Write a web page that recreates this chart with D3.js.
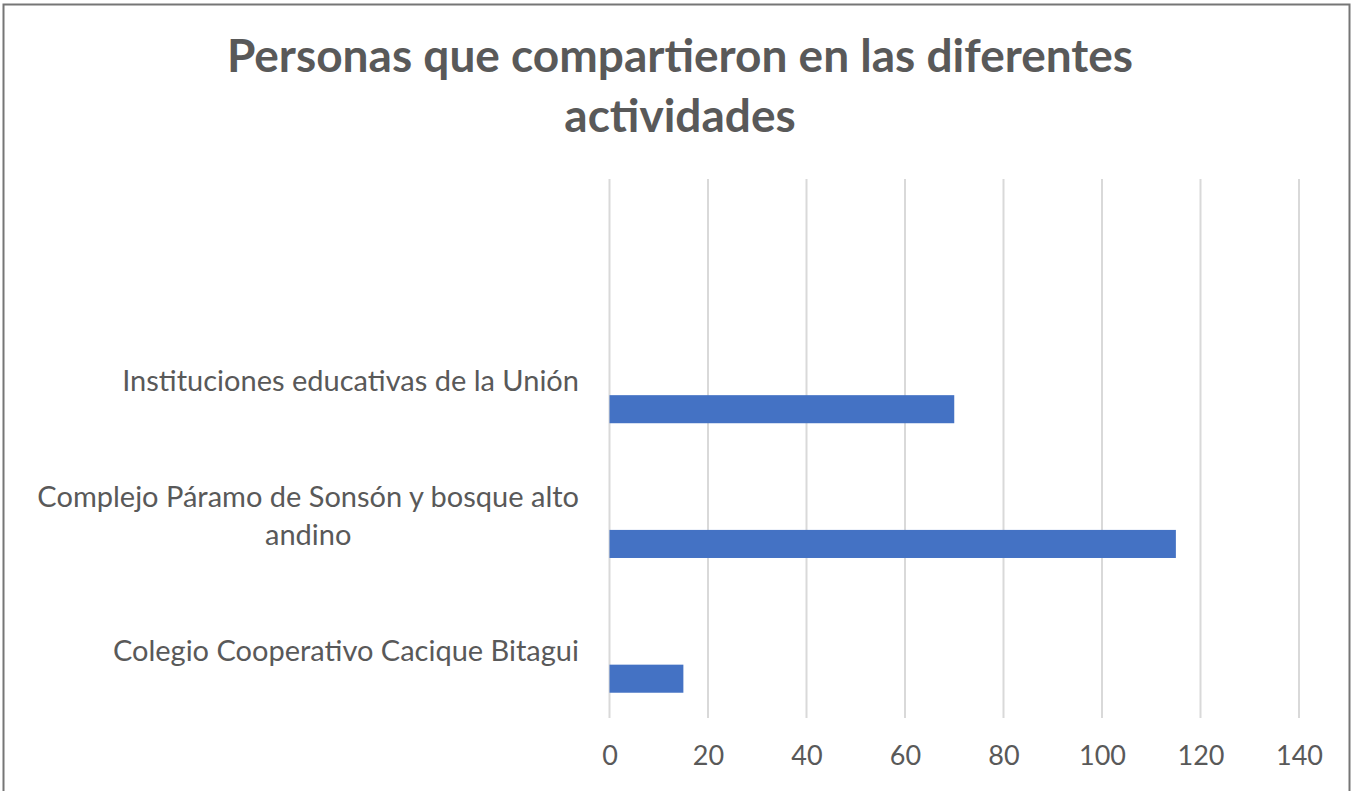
<html lang="es">
  <head>
    <title>Personas que compartieron</title>
    <script src="https://d3js.org/d3.v7.min.js"></script>
    <style>
      body { margin: 0; background: #fff; }
      text { font-family: Lato, "Open Sans", sans-serif; fill: #595959; }
      .grid line { stroke: #d9d9d9; stroke-width: 2; }
    </style>
  </head>
  <body>
    <svg id="chart" width="1353" height="791"></svg>
    <script>
      const title = ['Personas que compartieron en las diferentes', 'actividades']
      // top to bottom; the first slot is an empty category in the source sheet
      const categories = [
        '',
        'Instituciones educativas de la Unión',
        'Complejo Páramo de Sonsón y bosque alto|andino',
        'Colegio Cooperativo Cacique Bitagui'
      ]
      const values = [null, 70, 115, 15]
      const ticks = [0, 20, 40, 60, 80, 100, 120, 140]
      const slots = ['a', 'b', 'c'] // clustered slots, only the last one holds data

      const svg = d3.select('#chart')

      svg.append('rect')
        .attr('x', 3.5).attr('y', 4.5)
        .attr('width', 1346).attr('height', 820)
        .attr('fill', 'none')
        .attr('stroke', '#767676')
        .attr('stroke-width', 2)

      svg.append('g').selectAll('text')
        .data(title).join('text')
        .attr('x', 680)
        .attr('y', (d, i) => 72 + i * 60)
        .attr('text-anchor', 'middle')
        .style('font-size', '46px')
        .style('font-weight', 'bold')
        .text(d => d)

      const x = d3.scaleLinear().domain([0, 140]).range([609.5, 1299])
      const y = d3.scaleBand().domain(categories).range([179, 718])
      const inner = d3.scaleBand().domain(slots).range([0, y.bandwidth()]).paddingOuter(0.9)

      svg.append('g').attr('class', 'grid')
        .selectAll('line')
        .data(ticks).join('line')
        .attr('x1', d => x(d)).attr('x2', d => x(d))
        .attr('y1', 179).attr('y2', 718)

      const xAxis = d3.axisBottom(x).tickValues(ticks).tickSize(0).tickPadding(0)
      const ax = svg.append('g').attr('transform', 'translate(0,746)').call(xAxis)
      ax.select('.domain').remove()
      ax.selectAll('text')
        .attr('dy', '0.71em')
        .style('font-size', '27px')
        .style('font-family', 'Lato, sans-serif')
        .attr('fill', '#595959')

      svg.append('g').selectAll('rect')
        .data(categories.map((c, i) => ({ c, v: values[i] })).filter(d => d.v != null))
        .join('rect')
        .attr('x', x(0))
        .attr('y', d => y(d.c) + inner('c'))
        .attr('width', d => x(d.v) - x(0))
        .attr('height', inner.bandwidth())
        .attr('fill', '#4472c4')

      const labels = svg.append('g').selectAll('text')
        .data(categories.filter(c => c))
        .join('text')
        .style('font-size', '29px')
        .attr('text-anchor', 'middle')

      labels.each(function (c) {
        const lines = c.split('|')
        const t = d3.select(this)
        const cy = y(c) + y.bandwidth() / 2
        const lh = 38
        const top = cy - (lines.length - 1) * lh / 2
        const spans = lines.map((l, i) => t.append('tspan')
          .attr('y', top + i * lh)
          .attr('dy', '0.35em')
          .text(l))
        // lines are centred on the widest line, which ends at the right edge
        const w = d3.max(spans, s => s.node().getComputedTextLength())
        spans.forEach(s => s.attr('x', 579 - w / 2))
      })
    </script>
  </body>
</html>
